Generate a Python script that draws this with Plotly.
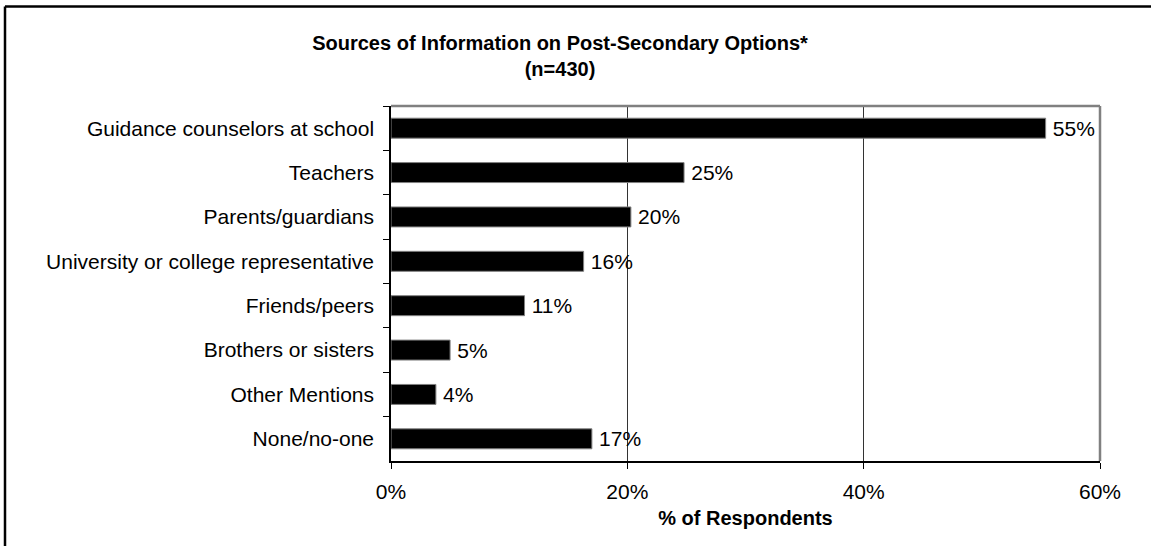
import plotly.graph_objects as go

categories = [
    "Guidance counselors at school",
    "Teachers",
    "Parents/guardians",
    "University or college representative",
    "Friends/peers",
    "Brothers or sisters",
    "Other Mentions",
    "None/no-one",
]
values = [55.4, 24.8, 20.3, 16.3, 11.3, 5.0, 3.8, 17.0]
x_ticks = [0, 20, 40, 60]
x_tick_labels = ["0%", "20%", "40%", "60%"]
title_line1 = "Sources of Information on Post-Secondary Options*"
title_line2 = "(n=430)"
x_title = "% of Respondents"

FONT = "Liberation Sans, Arial, sans-serif"

fig = go.Figure(
    go.Bar(
        x=values,
        y=categories,
        orientation="h",
        width=0.45,
        marker=dict(color="black", line=dict(color="#808080", width=1)),
        text=[f"\u2009{v:.0f}%" for v in values],
        textposition="outside",
        constraintext="none",
        textfont=dict(family=FONT, size=21, color="black"),
        cliponaxis=False,
    )
)

fig.update_layout(
    width=1151,
    height=546,
    margin=dict(l=391, r=51, t=106, b=85),
    paper_bgcolor="white",
    plot_bgcolor="white",
    font=dict(family=FONT, size=21, color="black"),
    showlegend=False,
    title=dict(
        text=f"<b>{title_line1}</b><br><b>{title_line2}</b>",
        x=560 / 1151,
        xanchor="center",
        xref="container",
        y=1 - 50 / 546,
        yanchor="top",
        yref="container",
        font=dict(family=FONT, size=20, color="black"),
    ),
    xaxis=dict(
        range=[0, 60],
        tickvals=x_ticks,
        ticktext=x_tick_labels,
        ticks="outside",
        ticklen=6,
        tickcolor="black",
        tickwidth=1,
        showline=True,
        linecolor="black",
        linewidth=1.5,
        showgrid=True,
        gridcolor="#333333",
        gridwidth=1,
        zeroline=False,
        ticklabelstandoff=5,
        title=dict(text=f"<b>{x_title}</b>", font=dict(size=20), standoff=9),
        tickfont=dict(size=21),
    ),
    yaxis=dict(
        categoryorder="array",
        categoryarray=categories,
        autorange="reversed",
        ticks="outside",
        tickson="boundaries",
        ticklen=6,
        tickcolor="black",
        tickwidth=1,
        showline=True,
        linecolor="black",
        linewidth=1.5,
        showgrid=False,
        zeroline=False,
        ticklabelstandoff=11,
        tickfont=dict(size=21),
    ),
    bargap=0.55,
    shapes=[
        dict(type="line", xref="paper", yref="paper", x0=0, x1=1, y0=1, y1=1,
             line=dict(color="#808080", width=2.5)),
        dict(type="line", xref="paper", yref="paper", x0=1, x1=1, y0=0, y1=1,
             line=dict(color="#808080", width=2.5)),
        dict(type="line", xref="paper", yref="paper",
             x0=(5 - 391) / 709, x1=2, y0=(461 - 6.5) / 355, y1=(461 - 6.5) / 355,
             line=dict(color="black", width=2.5)),
        dict(type="line", xref="paper", yref="paper",
             x0=(5 - 391) / 709, x1=(5 - 391) / 709, y0=-1, y1=(461 - 6.5) / 355,
             line=dict(color="black", width=2.5)),
    ],
)

fig.write_html("out.html")
